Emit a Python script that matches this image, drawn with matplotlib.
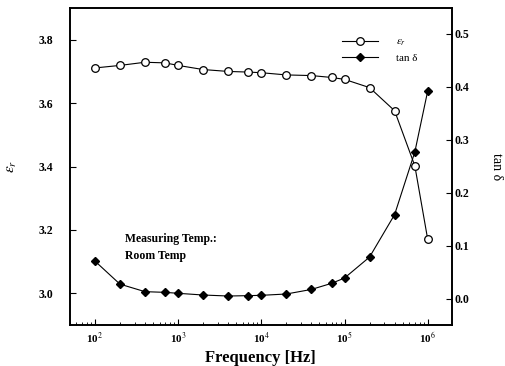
import matplotlib
matplotlib.use("Agg")
import matplotlib.pyplot as plt
from matplotlib.ticker import LogLocator, NullFormatter

freq = [1e2, 2e2, 4e2, 7e2, 1e3, 2e3, 4e3, 7e3, 1e4, 2e4, 4e4, 7e4, 1e5, 2e5, 4e5, 7e5, 1e6]
eps_r = [3.711, 3.719, 3.729, 3.727, 3.719, 3.706, 3.700, 3.698, 3.696, 3.689, 3.687,
         3.681, 3.675, 3.649, 3.576, 3.402, 3.170]
tan_d = [0.0715, 0.028, 0.0138, 0.0125, 0.0107, 0.0075, 0.0056, 0.0063, 0.0069, 0.0094,
         0.018, 0.0295, 0.0395, 0.079, 0.159, 0.277, 0.392]

left_ticks = [3.0, 3.2, 3.4, 3.6, 3.8]
right_ticks = [0.0, 0.1, 0.2, 0.3, 0.4, 0.5]
x_ticks = [1e2, 1e3, 1e4, 1e5, 1e6]
x_labels = ["10$^2$", "10$^3$", "10$^4$", "10$^5$", "10$^6$"]

plt.rcParams['font.family'] = ['Liberation Serif', 'DejaVu Serif']
plt.rcParams['mathtext.fontset'] = 'stix'

fig = plt.figure(figsize=(5.06, 3.66), dpi=100)
ax = fig.add_axes([0.138, 0.112, 0.755, 0.866])
ax2 = ax.twinx()

l1, = ax.plot(freq, eps_r, color='black', lw=0.8, marker='o', ms=5.5,
              mfc='white', mec='black', mew=0.9, label=r'$\epsilon_r$')
l2, = ax2.plot(freq, tan_d, color='black', lw=0.8, marker='D', ms=4.5,
               mfc='black', mec='black', label='tan δ')

ax.set_xscale('log')
ax.set_xlim(50, 1.95e6)
ax.set_ylim(2.9, 3.9)
ax2.set_ylim(-0.049, 0.548)

ax.set_xticks(x_ticks)
ax.set_xticklabels(x_labels)
ax.xaxis.set_minor_locator(LogLocator(base=10, subs=range(2, 10), numticks=20))
ax.xaxis.set_minor_formatter(NullFormatter())
ax.set_yticks(left_ticks)
ax.set_yticklabels([f"{v:.1f}" for v in left_ticks])
ax2.set_yticks(right_ticks)
ax2.set_yticklabels([f"{v:.1f}" for v in right_ticks])

ax.tick_params(axis='x', which='major', direction='in', length=4, width=0.8,
               labelsize=8, pad=4)
ax.tick_params(axis='x', which='minor', direction='in', length=2.5, width=0.6)
ax.tick_params(axis='y', which='major', direction='in', length=4, width=0.8,
               labelsize=8.5, pad=12)
ax2.tick_params(axis='y', which='major', direction='in', length=4, width=0.8,
                labelsize=8.5, pad=2)
for t in ax.get_xticklabels() + ax.get_yticklabels() + ax2.get_yticklabels():
    t.set_fontweight('bold')

for a in (ax, ax2):
    for s in a.spines.values():
        s.set_linewidth(1.2)

ax.set_xlabel('Frequency [Hz]', fontsize=12, fontweight='bold', labelpad=3)
ax.set_ylabel(r'$\epsilon_r$', fontsize=11, labelpad=14)
ax2.set_ylabel('tan δ', fontsize=10, rotation=270, labelpad=24)

ax.text(0.145, 0.29, 'Measuring Temp.:\nRoom Temp', transform=ax.transAxes,
        fontsize=8.5, fontweight='bold', va='top', ha='left', linespacing=1.6)

ax.legend(handles=[l1, l2], loc='upper right', bbox_to_anchor=(0.935, 0.94),
          frameon=False, fontsize=8, handlelength=3.2, handletextpad=1.6,
          labelspacing=0.45)

fig.savefig('out.png', dpi=100)
